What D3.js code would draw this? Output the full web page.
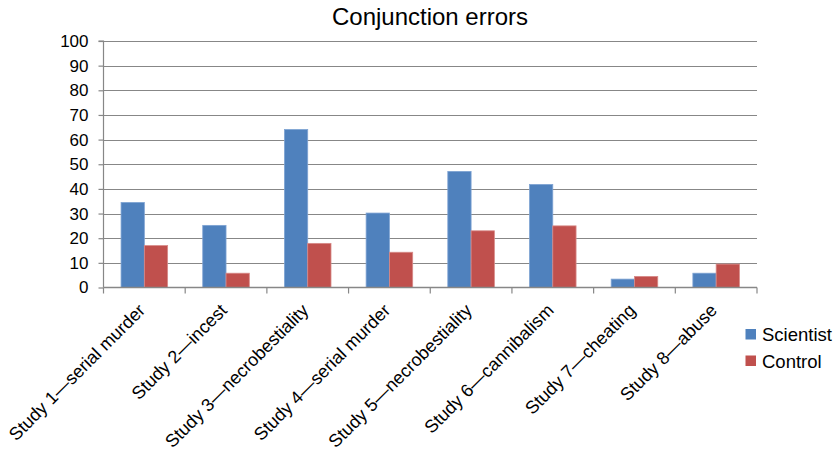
<!DOCTYPE html>
<html>
<head>
<meta charset="utf-8">
<script src="https://cdn.jsdelivr.net/npm/d3@7/dist/d3.min.js"></script>
<style>
html,body{margin:0;padding:0;background:#fff;}
svg{display:block;font-family:"Liberation Sans",Arial,sans-serif;}
</style>
</head>
<body>
<svg id="chart" width="838" height="455"></svg>
<script>
const categories = ["Study 1\u2014serial murder","Study 2\u2014incest","Study 3\u2014necrobestiality","Study 4\u2014serial murder","Study 5\u2014necrobestiality","Study 6\u2014cannibalism","Study 7\u2014cheating","Study 8\u2014abuse"];
const seriesNames = ["Scientist","Control"];
const scientist = [34.5, 25.2, 64.1, 30.2, 47.1, 41.8, 3.4, 5.8];
const control = [17.0, 5.8, 17.9, 14.3, 23.0, 25.0, 4.5, 9.5];
const yTicks = [0,10,20,30,40,50,60,70,80,90,100];
const colors = ["#4F81BD","#C0504D"];
const title = "Conjunction errors";

(function(){
const svg = d3.select("#chart");
const pLeft = 103.5, pRight = 757, pTop = 41, pBottom = 287.5;

const x = d3.scaleBand().domain(categories).range([pLeft, pRight]).paddingInner(0.43).paddingOuter(0.215);
const xb = d3.scaleBand().domain(categories).range([pLeft, pRight]);
const xs = d3.scaleBand().domain(seriesNames).range([0, x.bandwidth()]);
const y = d3.scaleLinear().domain([0,100]).range([pBottom, pTop]);

// gridlines
svg.append("g").selectAll("line").data(yTicks.slice(1)).join("line")
  .attr("x1", pLeft).attr("x2", pRight)
  .attr("y1", d => Math.round(y(d))+0.5).attr("y2", d => Math.round(y(d))+0.5)
  .attr("stroke", "#878787").attr("stroke-width", 1.2);

// y axis
const yAxis = d3.axisLeft(y).tickValues(yTicks).tickSize(5).tickPadding(10);
const gy = svg.append("g").attr("transform", `translate(${pLeft},0)`).call(yAxis);
gy.select(".domain").attr("stroke", "#878787").attr("stroke-width", 1.2).attr("d", `M-5,${pTop}H0V${pBottom}`);
gy.selectAll(".tick line").attr("stroke", "#878787").attr("stroke-width", 1.2);
gy.selectAll(".tick text").attr("font-size", 17).attr("fill", "#000").attr("font-family", "Liberation Sans, Arial, sans-serif");

// bars
const data = categories.map((c,i) => ({c, vals: [scientist[i], control[i]]}));
const groups = svg.append("g").selectAll("g").data(data).join("g")
  .attr("transform", d => `translate(${x(d.c)},0)`);
groups.selectAll("rect").data(d => d.vals.map((v,j) => ({v, s: seriesNames[j], j}))).join("rect")
  .attr("x", d => xs(d.s)).attr("width", xs.bandwidth())
  .attr("y", d => y(d.v)).attr("height", d => y(0) - y(d.v))
  .attr("fill", d => colors[d.j])
  .attr("stroke", d => d.j === 0 ? "#7ea3d3" : "#d88a88").attr("stroke-width", 0.8);

// x axis
const xAxis = d3.axisBottom(xb).tickSize(0).tickFormat("");
const gx = svg.append("g").attr("transform", `translate(0,${pBottom})`).call(xAxis);
gx.select(".domain").attr("stroke", "#878787").attr("stroke-width", 1.5).attr("d", `M${pLeft},0H${pRight}`);
const bounds = categories.map(c => xb(c)).concat([pRight]);
gx.selectAll(".bt").data(bounds).join("line").attr("class","bt")
  .attr("x1", d => d).attr("x2", d => d).attr("y1", 0).attr("y2", 6)
  .attr("stroke", "#878787").attr("stroke-width", 1.2);
// labels
svg.append("g").selectAll("text").data(categories).join("text")
  .attr("transform", d => `translate(${xb(d) + xb.bandwidth()/2 + 2},${pBottom + 24}) rotate(-45)`)
  .attr("text-anchor", "end").attr("font-size", 18).attr("fill", "#000")
  .text(d => d);

// title
svg.append("text").attr("x", 430).attr("y", 25).attr("text-anchor", "middle")
  .attr("font-size", 24).attr("fill", "#000").text(title);

// legend
const lg = svg.append("g").selectAll("g").data(seriesNames).join("g")
  .attr("transform", (d,i) => `translate(745.5,${329 + i*26.5})`);
lg.append("rect").attr("width", 10.5).attr("height", 10.5).attr("fill", (d,i) => colors[i]);
lg.append("text").attr("x", 16.5).attr("y", 12).attr("font-size", 18.5).attr("fill", "#000").text(d => d);
})();
</script>
</body>
</html>
